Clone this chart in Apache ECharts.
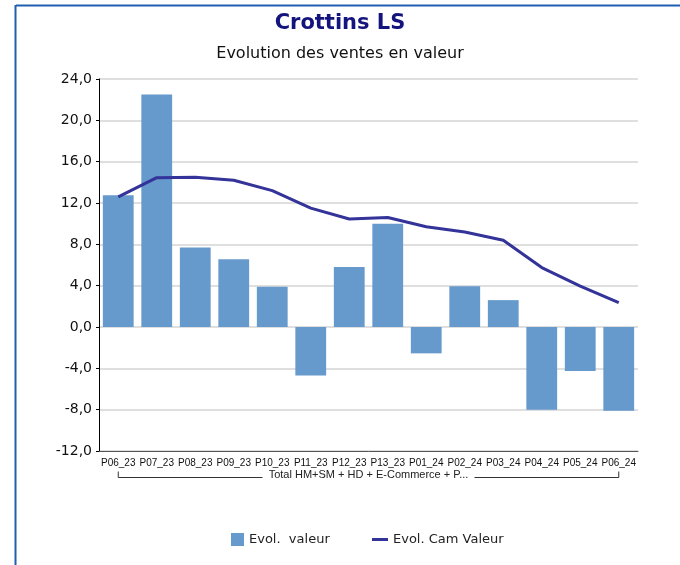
<!DOCTYPE html>
<html>
<head>
<meta charset="utf-8">
<script src="https://cdn.jsdelivr.net/npm/echarts@6/dist/echarts.min.js"></script>
<style>
  html, body { margin: 0; padding: 0; background: #fff; }
  #chart { width: 680px; height: 565px; }
</style>
</head>
<body>
<div id="chart"></div>
<script>
// periods shown on the x axis
const categories = ['P06_23', 'P07_23', 'P08_23', 'P09_23', 'P10_23', 'P11_23', 'P12_23',
  'P13_23', 'P01_24', 'P02_24', 'P03_24', 'P04_24', 'P05_24', 'P06_24'];
// bars: Evol. valeur
const evolValeur = [12.75, 22.5, 7.7, 6.55, 3.9, -4.7, 5.8, 10.0, -2.55, 3.95, 2.6, -8.0, -4.25, -8.1];
// line: Evol. Cam Valeur
const evolCam = [12.6, 14.45, 14.5, 14.2, 13.2, 11.5, 10.45, 10.6, 9.7, 9.2, 8.4, 5.75, 3.95, 2.35];
const groupLabel = 'Total HM+SM + HD + E-Commerce + P...';
const yMin = -12, yMax = 24, yStep = 4;

const legendText = { fontFamily: 'DejaVu Sans', fontSize: 13, color: '#222' };

const chart = echarts.init(document.getElementById('chart'));
const option = {
  animation: false,
  title: [
    {
      text: 'Crottins LS',
      left: 'center', top: 8,
      textStyle: { fontFamily: 'DejaVu Sans', fontWeight: 'bold', fontSize: 21, color: '#14147f' }
    },
    {
      text: 'Evolution des ventes en valeur',
      left: 'center', top: 41,
      textStyle: { fontFamily: 'DejaVu Sans', fontWeight: 'normal', fontSize: 16, color: '#111' }
    }
  ],
  legend: [
    {
      bottom: 14, left: 226,
      textStyle: legendText,
      data: [{ name: 'Evol.  valeur', icon: 'rect' }],
      itemWidth: 13, itemHeight: 13
    },
    {
      bottom: 14, left: 367,
      textStyle: legendText,
      data: [{ name: 'Evol. Cam Valeur', icon: 'rect' }],
      itemWidth: 16, itemHeight: 3
    }
  ],
  grid: { left: 99, right: 42, top: 79, bottom: 114 },
  xAxis: {
    type: 'category',
    data: categories,
    axisLine: { onZero: false, lineStyle: { color: '#555' } },
    axisTick: { show: false },
    axisLabel: { interval: 0, fontFamily: 'Liberation Sans', fontSize: 10, color: '#111', margin: 7 }
  },
  yAxis: {
    type: 'value',
    min: yMin, max: yMax, interval: yStep,
    axisLine: { show: true, lineStyle: { color: '#000' } },
    axisTick: { show: true, length: 3, lineStyle: { color: '#000' } },
    splitLine: { lineStyle: { color: '#d4d4d4', width: 1.5 } },
    axisLabel: {
      fontFamily: 'DejaVu Sans', fontSize: 14, color: '#111', margin: 7,
      formatter: v => v.toFixed(1).replace('.', ',')
    }
  },
  series: [
    {
      name: 'Evol.  valeur',
      type: 'bar',
      data: evolValeur,
      barCategoryGap: '20%',
      itemStyle: { color: '#6699cc' }
    },
    {
      name: 'Evol. Cam Valeur',
      type: 'line',
      data: evolCam,
      showSymbol: false,
      symbol: 'none',
      lineStyle: { color: '#333399', width: 3 },
      itemStyle: { color: '#333399' }
    }
  ]
};
chart.setOption(option);

// frame + category group bracket
const x0 = chart.convertToPixel({ xAxisIndex: 0 }, categories[0]);
const x1 = chart.convertToPixel({ xAxisIndex: 0 }, categories[categories.length - 1]);
const by = 477.5;
const mid = (x0 + x1) / 2;
const half = 106;
chart.setOption({
  graphic: [
    { type: 'line', shape: { x1: 16, y1: 5.5, x2: 680, y2: 5.5 }, style: { stroke: '#1f5fb0', lineWidth: 2 } },
    { type: 'line', shape: { x1: 15.5, y1: 5, x2: 15.5, y2: 565 }, style: { stroke: '#1f5fb0', lineWidth: 2 } },
    { type: 'polyline', shape: { points: [[x0, by - 6], [x0, by], [mid - half, by]] }, style: { stroke: '#333', lineWidth: 1, fill: null } },
    { type: 'polyline', shape: { points: [[mid + half, by], [x1, by], [x1, by - 6]] }, style: { stroke: '#333', lineWidth: 1, fill: null } },
    {
      type: 'text', x: mid, y: by - 2.5,
      style: { text: groupLabel, fontFamily: 'Liberation Sans', fontSize: 11, fill: '#222', align: 'center', verticalAlign: 'middle' }
    }
  ]
});
window.addEventListener('resize', function () { chart.resize(); });
</script>
</body>
</html>
